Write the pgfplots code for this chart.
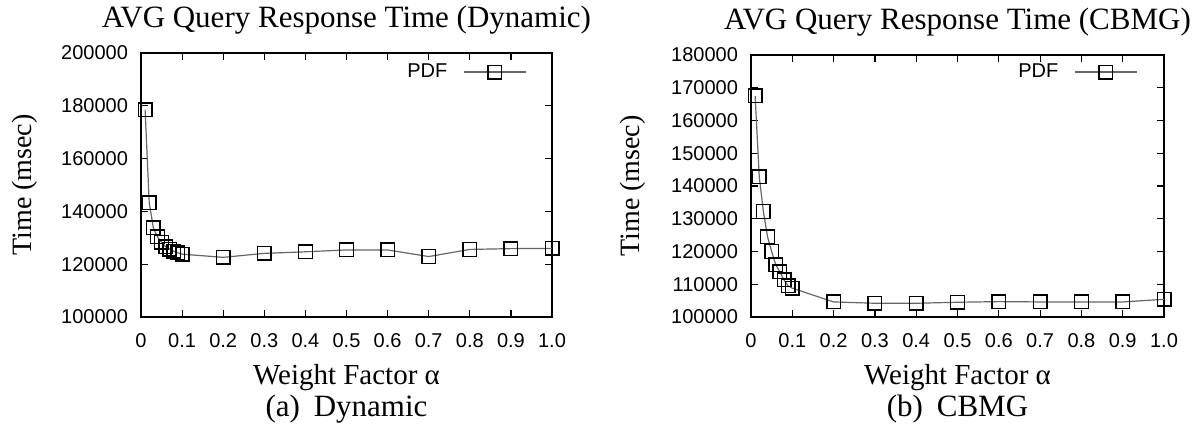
\documentclass[border=0pt]{standalone}
\usepackage{pgfplots}
\pgfplotsset{compat=1.18}
\usepackage{fontspec}
\setmainfont{Liberation Serif}
\newfontfamily\arialfont{Liberation Sans}

\pgfplotstableread{
x y
0.01 178500
0.02 143300
0.03 133800
0.04 130400
0.05 128300
0.06 126600
0.07 125700
0.08 124900
0.09 124300
0.10 123800
0.2 122600
0.3 124100
0.4 124700
0.5 125400
0.6 125400
0.7 122900
0.8 125600
0.9 125900
1.0 126000
}\dyn

\pgfplotstableread{
x y
0.01 167500
0.02 142800
0.03 132200
0.04 124500
0.05 120000
0.06 115900
0.07 113800
0.08 111300
0.09 109500
0.10 108800
0.2 104600
0.3 104200
0.4 104200
0.5 104500
0.6 104700
0.7 104600
0.8 104600
0.9 104600
1.0 105400
}\cbmg

\pgfplotsset{
  myax/.style={
    scale only axis,
    anchor=south west,
    xmin=0, xmax=1,
    xtick={0,0.1,0.2,0.3,0.4,0.5,0.6,0.7,0.8,0.9,1.0},
    xticklabels={0,0.1,0.2,0.3,0.4,0.5,0.6,0.7,0.8,0.9,1.0},
    scaled y ticks=false,
    scaled x ticks=false,
    tick pos=both,
    tick align=inside,
    major tick length=3.5pt,
    axis line style={line width=0.7pt},
    tick style={line width=0.6pt, black},
    ticklabel style={font=\arialfont\fontsize{10}{12}\selectfont},
    xticklabel style={yshift=-4.5pt},
    yticklabel style={xshift=-3pt},
    title style={font=\fontsize{15.5}{18}\selectfont, at={(0.5,1)}, anchor=base, yshift=7pt},
    xlabel style={font=\fontsize{14.5}{17}\selectfont, at={(axis description cs:0.5,-0.231)}, anchor=center},
    ylabel style={font=\fontsize{14}{17}\selectfont, anchor=center},
    xlabel={Weight Factor α},
    ylabel={Time (msec)},
    legend plot pos=right,
    legend style={draw=none, fill=none, inner sep=0pt, anchor=east,
      font=\arialfont\fontsize{10}{12}\selectfont,
      /tikz/every odd column/.append style={column sep=6pt}},
    legend image code/.code={\draw[mark repeat=2,mark phase=2,##1] plot coordinates {(0pt,0pt) (15.5pt,0pt) (31pt,0pt)};},
  },
  myplot/.style={color=black!60, line width=0.6pt, mark=square, mark size=3.4pt,
    mark options={solid, draw=black, line width=0.7pt}},
}

\begin{document}
\begin{tikzpicture}
\path[use as bounding box] (0,0) rectangle (600pt,212.5pt);

\begin{axis}[myax,
  at={(70.5pt,54pt)},
  width=205.5pt, height=132pt,
  ymin=100000, ymax=200000,
  ytick={100000,120000,140000,160000,180000,200000},
  yticklabels={100000,120000,140000,160000,180000,200000},
  title={AVG Query Response Time (Dynamic)},
  ylabel style={at={(axis description cs:-0.282,0.5)}},
  legend style={at={(axis description cs:0.939,0.928)}},
]
\addplot[myplot] table[x=x,y=y] {\dyn};
\addlegendentry{PDF}
\end{axis}

\begin{axis}[myax,
  at={(375.5pt,54pt)},
  width=206.5pt, height=131pt,
  ymin=100000, ymax=180000,
  ytick={100000,110000,120000,130000,140000,150000,160000,170000,180000},
  yticklabels={100000,110000,120000,130000,140000,150000,160000,170000,180000},
  title={AVG Query Response Time (CBMG)},
  ylabel style={at={(axis description cs:-0.286,0.5)}},
  legend style={at={(axis description cs:0.937,0.935)}},
]
\addplot[myplot] table[x=x,y=y] {\cbmg};
\addlegendentry{PDF}
\end{axis}

\node[font=\fontsize{15.5}{18}\selectfont] at (173.25pt,8pt) {(a)\hspace{0.45em}Dynamic};
\node[font=\fontsize{15.5}{18}\selectfont] at (478.75pt,8pt) {(b)\hspace{0.45em}CBMG};
\end{tikzpicture}
\end{document}
